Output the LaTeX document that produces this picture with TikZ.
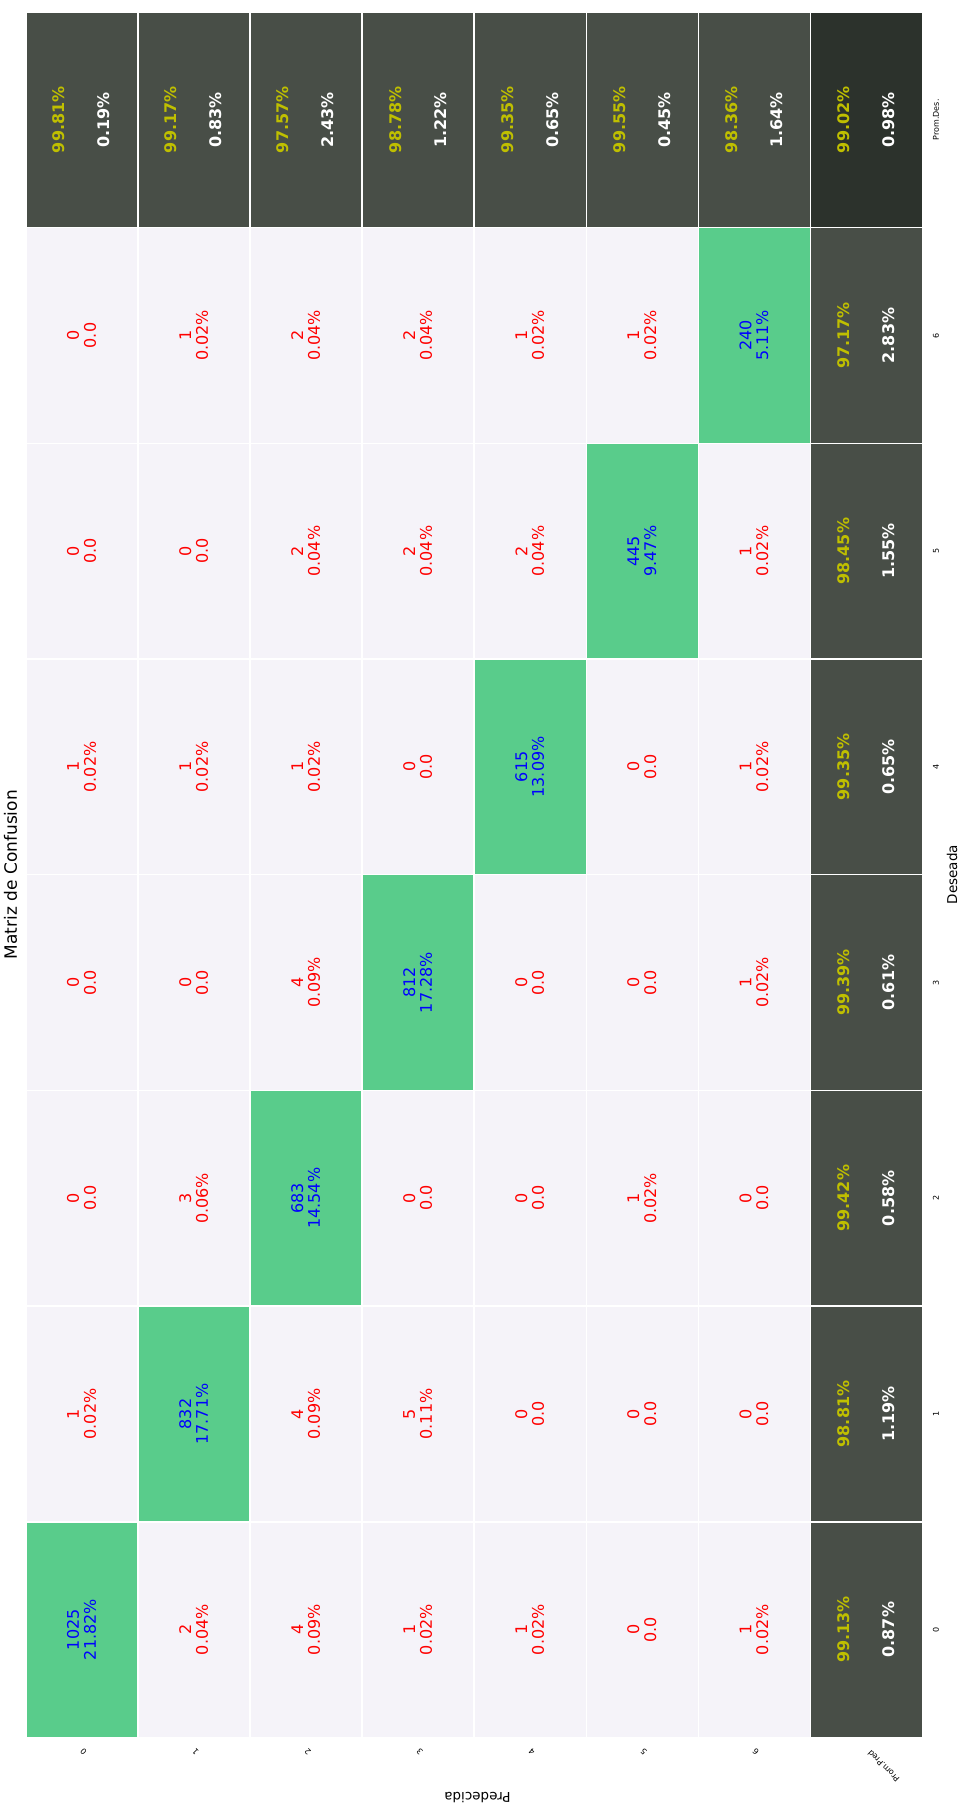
\documentclass[tikz,border=0pt]{standalone}
\usepackage{fontspec}
\setmainfont{DejaVu Sans}
\definecolor{cgray}{HTML}{484E47}
\definecolor{cdark}{HTML}{2C322C}
\definecolor{cgreen}{HTML}{59CC8B}
\definecolor{clav}{HTML}{F5F3F9}
\definecolor{cyel}{HTML}{BFBF00}
\tikzset{
  cellbox/.style={draw=white, line width=1.5pt, minimum width=112.05pt, minimum height=215.69pt, inner sep=0pt, anchor=center},
  celltxt/.style={rotate=90, inner sep=0pt, anchor=center, font=\fontsize{16}{19}\selectfont},
  sumtxt/.style={rotate=90, inner sep=0pt, anchor=center, font=\fontsize{16}{19}\selectfont\bfseries},
  btick/.style={rotate=135, inner sep=0pt, anchor=center, font=\fontsize{8}{9}\selectfont},
  rtick/.style={rotate=90, inner sep=0pt, anchor=center, font=\fontsize{8}{9}\selectfont},
  axlab/.style={inner sep=0pt, anchor=center, font=\fontsize{13.5}{16}\selectfont}
}
% col, row, line1, line2
\newcommand\offc[4]{%
  \node[cellbox, fill=clav] (c#1#2) at ({26+(#1+0.5)*112.05},{11.95+(#2+0.5)*215.69}) {};
  \node[celltxt, text=red] (t#1#2a) at ([xshift=-8.9pt]c#1#2.center) {#3};
  \node[celltxt, text=red] (t#1#2b) at ([xshift=7.9pt]c#1#2.center) {#4};
}
\newcommand\diagc[4]{%
  \node[cellbox, fill=cgreen] (c#1#2) at ({26+(#1+0.5)*112.05},{11.95+(#2+0.5)*215.69}) {};
  \node[celltxt, text=blue] (t#1#2a) at ([xshift=-8.9pt]c#1#2.center) {#3};
  \node[celltxt, text=blue] (t#1#2b) at ([xshift=7.9pt]c#1#2.center) {#4};
}
% col, row, fill, line1, line2
\newcommand\sumc[5]{%
  \node[cellbox, fill=#3] (c#1#2) at ({26+(#1+0.5)*112.05},{11.95+(#2+0.5)*215.69}) {};
  \node[sumtxt, text=cyel] (t#1#2a) at ([xshift=-23pt]c#1#2.center) {#4};
  \node[sumtxt, text=white] (t#1#2b) at ([xshift=22pt]c#1#2.center) {#5};
}
\begin{document}
\begin{tikzpicture}[x=1pt,y=-1pt]
\useasboundingbox (0,0) rectangle (962,1809);
\fill[white] (0,0) rectangle (962,1809);
% row 0: Prom.Des.
\sumc{0}{0}{cgray}{99.81\%}{0.19\%}
\sumc{1}{0}{cgray}{99.17\%}{0.83\%}
\sumc{2}{0}{cgray}{97.57\%}{2.43\%}
\sumc{3}{0}{cgray}{98.78\%}{1.22\%}
\sumc{4}{0}{cgray}{99.35\%}{0.65\%}
\sumc{5}{0}{cgray}{99.55\%}{0.45\%}
\sumc{6}{0}{cgray}{98.36\%}{1.64\%}
\sumc{7}{0}{cdark}{99.02\%}{0.98\%}
% row 1: desired 6
\offc{0}{1}{0}{0.0}
\offc{1}{1}{1}{0.02\%}
\offc{2}{1}{2}{0.04\%}
\offc{3}{1}{2}{0.04\%}
\offc{4}{1}{1}{0.02\%}
\offc{5}{1}{1}{0.02\%}
\diagc{6}{1}{240}{5.11\%}
\sumc{7}{1}{cgray}{97.17\%}{2.83\%}
% row 2: desired 5
\offc{0}{2}{0}{0.0}
\offc{1}{2}{0}{0.0}
\offc{2}{2}{2}{0.04\%}
\offc{3}{2}{2}{0.04\%}
\offc{4}{2}{2}{0.04\%}
\diagc{5}{2}{445}{9.47\%}
\offc{6}{2}{1}{0.02\%}
\sumc{7}{2}{cgray}{98.45\%}{1.55\%}
% row 3: desired 4
\offc{0}{3}{1}{0.02\%}
\offc{1}{3}{1}{0.02\%}
\offc{2}{3}{1}{0.02\%}
\offc{3}{3}{0}{0.0}
\diagc{4}{3}{615}{13.09\%}
\offc{5}{3}{0}{0.0}
\offc{6}{3}{1}{0.02\%}
\sumc{7}{3}{cgray}{99.35\%}{0.65\%}
% row 4: desired 3
\offc{0}{4}{0}{0.0}
\offc{1}{4}{0}{0.0}
\offc{2}{4}{4}{0.09\%}
\diagc{3}{4}{812}{17.28\%}
\offc{4}{4}{0}{0.0}
\offc{5}{4}{0}{0.0}
\offc{6}{4}{1}{0.02\%}
\sumc{7}{4}{cgray}{99.39\%}{0.61\%}
% row 5: desired 2
\offc{0}{5}{0}{0.0}
\offc{1}{5}{3}{0.06\%}
\diagc{2}{5}{683}{14.54\%}
\offc{3}{5}{0}{0.0}
\offc{4}{5}{0}{0.0}
\offc{5}{5}{1}{0.02\%}
\offc{6}{5}{0}{0.0}
\sumc{7}{5}{cgray}{99.42\%}{0.58\%}
% row 6: desired 1
\offc{0}{6}{1}{0.02\%}
\diagc{1}{6}{832}{17.71\%}
\offc{2}{6}{4}{0.09\%}
\offc{3}{6}{5}{0.11\%}
\offc{4}{6}{0}{0.0}
\offc{5}{6}{0}{0.0}
\offc{6}{6}{0}{0.0}
\sumc{7}{6}{cgray}{98.81\%}{1.19\%}
% row 7: desired 0
\diagc{0}{7}{1025}{21.82\%}
\offc{1}{7}{2}{0.04\%}
\offc{2}{7}{4}{0.09\%}
\offc{3}{7}{1}{0.02\%}
\offc{4}{7}{1}{0.02\%}
\offc{5}{7}{0}{0.0}
\offc{6}{7}{1}{0.02\%}
\sumc{7}{7}{cgray}{99.13\%}{0.87\%}
% bottom ticks (Predecida)
\foreach \i in {0,...,6}{
  \node[btick] (bx\i) at ({26+(\i+0.5)*112.05+1.5},1752) {\i};
}
\node[btick] (bx7) at (883.5,1766) {Prom.Pred};
% right ticks (Deseada)
\foreach \i in {0,...,6}{
  \node[rtick] (ry\i) at (936,{11.95+(7-\i+0.5)*215.69}) {\i};
}
\node[rtick] (ry7) at (936,{11.95+0.5*215.69}) {Prom.Des.};
% axis labels and title
\node[axlab, rotate=90] (deseada) at (952,874.7) {Deseada};
\node[axlab, rotate=180] (predecida) at (477.5,1797.5) {Predecida};
\node[inner sep=0pt, rotate=90, font=\fontsize{17}{20}\selectfont] (title) at (10.5,874.7) {Matriz de Confusion};
\end{tikzpicture}
\end{document}
